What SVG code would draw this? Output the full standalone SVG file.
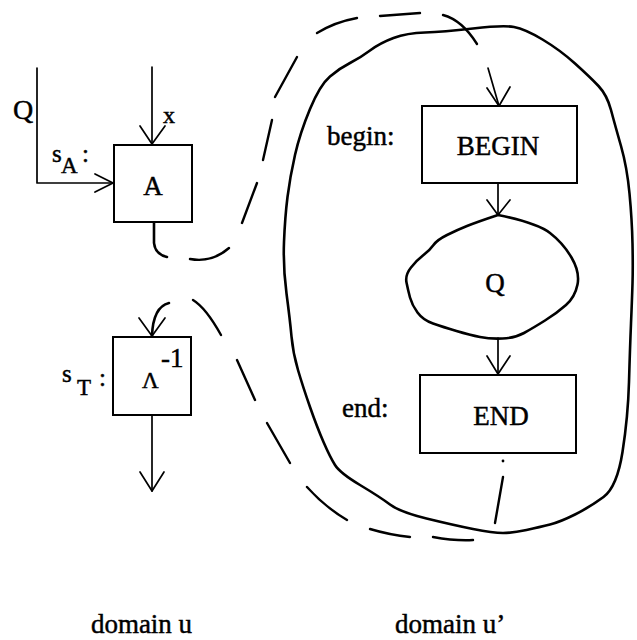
<svg xmlns="http://www.w3.org/2000/svg" width="637" height="640" viewBox="0 0 637 640" font-family="'Liberation Serif', 'DejaVu Serif', serif">
  <style>
    text { fill: #000; stroke: #000; stroke-width: 0.45; }
    .box { fill: #fff; stroke: #000; stroke-width: 2; }
    .line { fill: none; stroke: #000; stroke-width: 1.7; stroke-linecap: round; stroke-linejoin: round; }
    .hand { fill: none; stroke: #000; stroke-width: 2.6; stroke-linecap: round; stroke-linejoin: round; }
    .dash { fill: none; stroke: #000; stroke-width: 2.4; stroke-linecap: round; }
    .lbl { font-size: 27px; }
  </style>
  <rect width="637" height="640" fill="#fff"/>

  <!-- domain u' boundary -->
  <g id="domain-u-prime">
    <path class="hand" d="M291.5,336.5 Q290,320 286.5,293.5 Q283,267 284,242 Q285,217 287.5,197 Q290,177 295,155 Q300,133 310,109 Q320,85 330,76.5 Q340,68 350,63 Q360,58 370,50.5 Q380,43 393.5,38 Q407,33 425,32.5 Q443,32 473,28.5 Q503,25 514,27 Q525,29 542.5,39.5 Q560,50 575,63.5 Q590,77 598.5,86 Q607,95 611,110 Q615,125 621,146 Q627,167 629.5,193.5 Q632,220 632.5,243.5 Q633,267 632.5,283.5 Q632,300 631,323.5 Q630,347 629,382 Q628,417 622.5,452 Q617,487 603.5,497 Q590,507 575,514.5 Q560,522 550,524.5 Q540,527 526.5,530 Q513,533 503,533 Q493,533 473,529 Q453,525 426.5,518.5 Q400,512 390,504.5 Q380,497 360,485 Q340,473 335,465 Q330,457 323.5,442 Q317,427 310,407 Q303,387 298,370 Q293,353 291.5,336.5 Z"/>
  </g>

  <!-- nodes -->
  <g id="node-A">
    <rect class="box" x="114" y="145" width="78" height="77"/>
    <text class="lbl" x="153" y="195" text-anchor="middle">A</text>
    <text><tspan x="52" y="162" font-size="25">s</tspan><tspan x="61" y="173" font-size="23">A</tspan><tspan x="82" y="162" font-size="25">:</tspan></text>
  </g>

  <g id="node-A-inverse">
    <rect class="box" x="113" y="337" width="78" height="78"/>
    <text x="142" y="388" font-size="23">Λ</text>
    <text x="161" y="367" font-size="27">-1</text>
    <text><tspan x="62" y="382" font-size="25">s</tspan><tspan x="77" y="395" font-size="23">T</tspan><tspan x="99" y="386" font-size="25">:</tspan></text>
  </g>

  <g id="node-begin">
    <rect class="box" x="422" y="106" width="155" height="77"/>
    <text class="lbl" x="498" y="155" text-anchor="middle">BEGIN</text>
    <text class="lbl" x="327" y="145">begin:</text>
  </g>

  <g id="node-Q">
    <path class="hand" d="M498,215 Q537,223 550,233 Q563,243 571.5,257.5 Q580,272 577.5,284.5 Q575,297 566,305 Q557,313 545,320.5 Q533,328 524,333 Q515,338 502.5,338.5 Q490,339 480,337 Q470,335 456.5,331 Q443,327 433,323.5 Q423,320 417.5,312.5 Q412,305 410,297.5 Q408,290 406.5,282.5 Q405,275 411,267.5 Q417,260 423.5,255 Q430,250 433.5,245 Q437,240 447,235 Q457,230 467,226 Q477,222 498,215"/>
    <text class="lbl" x="495" y="292" text-anchor="middle">Q</text>
  </g>

  <g id="node-end">
    <rect class="box" x="420" y="375" width="156" height="78"/>
    <text class="lbl" x="501" y="425" text-anchor="middle">END</text>
    <text class="lbl" x="342" y="417">end:</text>
  </g>

  <!-- connectors -->
  <g id="connectors">
    <!-- Q into A -->
    <path class="line" d="M37,68 L37,183 L113,183"/>
    <path class="line" d="M95,174 L113,183 L95,192"/>
    <text x="23" y="119" font-size="28" text-anchor="middle">Q</text>
    <!-- x into A -->
    <path class="line" d="M152,67 L152,144"/>
    <path class="line" d="M140,126 L152,144 L165,126"/>
    <text x="163" y="123" font-size="24">x</text>

    <!-- A out, dashed round to BEGIN -->
    <path class="hand" d="M154,223 L154,243 Q155,254 167,257"/>
    <path class="dash" d="M190,259 Q212,263 229,248"/>
    <path class="dash" d="M242,223 L257,183"/>
    <path class="dash" d="M263,160 L272,120"/>
    <path class="dash" d="M275,97 L297,57"/>
    <path class="dash" d="M317,33 Q335,22 357,18"/>
    <path class="dash" d="M380,16 L420,13"/>
    <path class="dash" d="M443,15 Q462,20 477,44"/>
    <path class="line" d="M488,68 L499,106"/>
    <path class="line" d="M487,88 L499,106 L510,87"/>

    <!-- BEGIN to Q -->
    <path class="line" d="M498,183 L498,215"/>
    <path class="line" d="M487,200 L498,215 L510,200"/>

    <!-- Q to END -->
    <path class="line" d="M498,338 L498,374"/>
    <path class="line" d="M487,356 L498,374 L510,356"/>

    <!-- END out, dashed round to A inverse -->
    <circle cx="503" cy="461" r="1.4" fill="#000"/>
    <path class="dash" d="M503,477 L495,523"/>
    <path class="dash" d="M473,540 Q455,541 433,537"/>
    <path class="dash" d="M410,537 Q390,535 370,529"/>
    <path class="dash" d="M347,520 Q325,507 307,487"/>
    <path class="dash" d="M290,463 L267,423"/>
    <path class="dash" d="M255,400 L237,360"/>
    <path class="dash" d="M221,335 Q206,308 193,300"/>
    <path class="hand" d="M169,303 Q153,307 152,336"/>
    <path class="line" d="M139,318 L152,336 L165,318"/>

    <!-- A inverse out -->
    <path class="line" d="M152,415 L152,491"/>
    <path class="line" d="M140,472 L152,491 L164,472"/>
  </g>

  <!-- domain labels -->
  <g id="domain-labels">
    <text class="lbl" x="141.5" y="633" text-anchor="middle">domain u</text>
    <text class="lbl" x="395" y="633">domain u’</text>
  </g>
</svg>
